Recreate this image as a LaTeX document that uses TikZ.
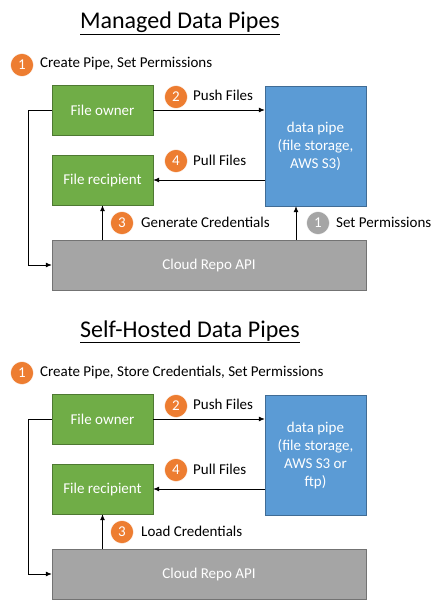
\documentclass[tikz,border=0pt]{standalone}
\usepackage{fontspec}
\setmainfont{Carlito}
\usetikzlibrary{arrows.meta}
\definecolor{ownergreen}{HTML}{70AD47}
\definecolor{pipeblue}{HTML}{5B9BD5}
\definecolor{apigray}{HTML}{A5A5A5}
\definecolor{steporange}{HTML}{ED7D31}
\begin{document}
\begin{tikzpicture}[x=1pt,y=-1pt,font=\fontsize{15}{18}\selectfont,
    box/.style={draw=#1!70!black,fill=#1,text=white,minimum height=50pt,minimum width=101pt,inner sep=0pt,align=center},
    num/.style={circle,fill=#1,draw=white,text=white,minimum size=23pt,inner sep=0pt},
    num/.default=steporange,
    lbl/.style={anchor=west,inner sep=0pt},
    title/.style={font=\fontsize{24}{28}\selectfont},
    arr/.style={-{Latex[length=6pt,width=5pt]},line width=0.8pt}]
    \useasboundingbox (0,0) rectangle (438,615);
    % managed pipes
    \node[title] (head1) at (180,23) {\underline{Managed Data Pipes}};
    \node[num] (n1a) at (22,65) {1};
    \node[lbl] (t1a) at (40,64) {Create Pipe, Set Permissions};
    \node[box=ownergreen] (owner1) at (102.5,110) {File owner};
    \node[box=ownergreen] (recip1) at (102.5,180) {File recipient};
    \node[box=pipeblue,minimum height=120pt] (pipe1) at (315.5,146) {data pipe\\(file storage,\\AWS S3)};
    \node[box=apigray,minimum width=314pt] (api1) at (209,265) {Cloud Repo API};
    \node[num] (n2a) at (176,97) {2};
    \node[lbl] (t2a) at (193,95) {Push Files};
    \node[num] (n4a) at (176,161) {4};
    \node[lbl] (t4a) at (193,160) {Pull Files};
    \node[num] (n3a) at (122,223) {3};
    \node[lbl] (t3a) at (141,222) {Generate Credentials};
    \node[num=apigray] (n1b) at (318,223) {1};
    \node[lbl] (t1b) at (336,222) {Set Permissions};
    \coordinate (perm1) at ([xshift=-19.5pt]pipe1.south);
    \draw[arr] (owner1.east) -- (pipe1.west |- owner1.east);
    \draw[arr] (pipe1.west |- recip1.east) -- (recip1.east);
    \draw[arr] (api1.north -| recip1.south) -- (recip1.south);
    \draw[arr] (api1.north -| perm1) -- (perm1);
    \draw[arr] (owner1.west) -- ++(-23,0) |- (api1.west);
    % self-hosted pipes
    \begin{scope}[shift={(0,309)}]
    \node[title] (head2) at (190,23) {\underline{Self-Hosted Data Pipes}};
    \node[num] (n1c) at (22,64) {1};
    \node[lbl] (t1c) at (40,63) {Create Pipe, Store Credentials, Set Permissions};
    \node[box=ownergreen] (owner2) at (102.5,110) {File owner};
    \node[box=ownergreen] (recip2) at (102.5,180) {File recipient};
    \node[box=pipeblue,minimum height=120pt] (pipe2) at (315.5,146) {data pipe\\(file storage,\\AWS S3 or\\ftp)};
    \node[box=apigray,minimum width=314pt] (api2) at (209,265) {Cloud Repo API};
    \node[num] (n2c) at (176,97) {2};
    \node[lbl] (t2c) at (193,95) {Push Files};
    \node[num] (n4c) at (176,161) {4};
    \node[lbl] (t4c) at (193,160) {Pull Files};
    \node[num] (n3c) at (122,223) {3};
    \node[lbl] (t3c) at (141,222) {Load Credentials};
    \draw[arr] (owner2.east) -- (pipe2.west |- owner2.east);
    \draw[arr] (pipe2.west |- recip2.east) -- (recip2.east);
    \draw[arr] (api2.north -| recip2.south) -- (recip2.south);
    \draw[arr] (owner2.west) -- ++(-23,0) |- (api2.west);
    \end{scope}
\end{tikzpicture}
\end{document}
